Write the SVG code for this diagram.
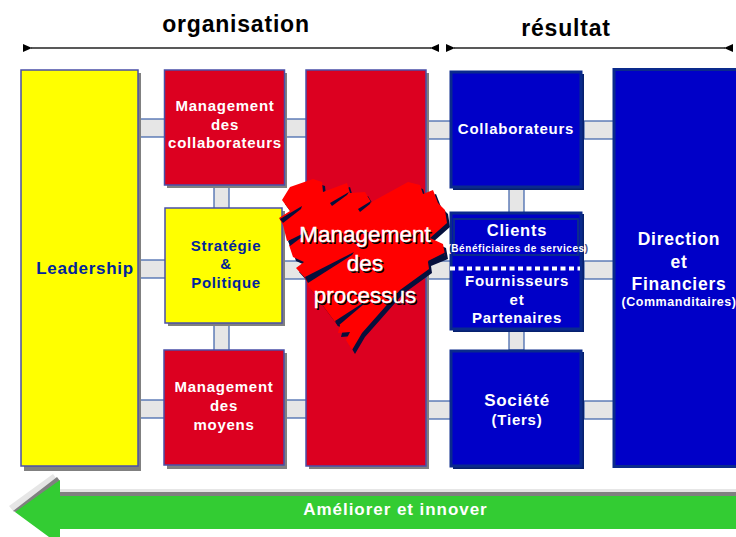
<svg xmlns="http://www.w3.org/2000/svg" width="736" height="537" viewBox="0 0 736 537">
<defs>
<marker id="ah" markerWidth="9" markerHeight="8" refX="1" refY="4" orient="auto-start-reverse" markerUnits="userSpaceOnUse"><path d="M9 0L0 4L9 8Z" fill="#000"/></marker>
<polygon id="heart" points="282,200 290,187 313,179 322,182 323,192 347,183 350,193 365,192 371,202 368,204 408,182 420,185 423,194 433,190 438,203 445,210 447,223 430,238 443,244 445,255 428,262 429,269 400,290 362,333 352,350 346,340 350,332 338,333 340,325 335,322 309,287 305,278 296,268 304,262 293,257 289,245 298,238 287,241 283,225 279,218 290,211"/>
</defs>
<style>
text{font-family:"Liberation Sans",Arial,sans-serif;font-weight:700;text-anchor:middle}
.w{fill:#fff;font-size:15px;letter-spacing:.75px}
.n{fill:#00249c;font-size:15px;letter-spacing:.7px}
.h{fill:#000;font-size:23px;letter-spacing:.8px}
.s{fill:#fff;letter-spacing:.55px}
.c{fill:#e6e6e6;stroke:#3a5fa8;stroke-width:1.2}
.bx{stroke:#4a4fa8;stroke-width:1.5}
.sh{fill:#808080}
.blue{fill:#0000c8;stroke:#0a2a8c;stroke-width:3}
.bs{fill:#06206e}
.big{fill:#fff;font-size:22.500px;font-weight:400;stroke:#fff;stroke-width:.4px}
.bigs{fill:#000;font-size:22.500px;font-weight:400}
.sl{fill:#06103c}
</style>
<g id="connectors">
<rect class="c" x="139" y="119" width="27" height="18"/>
<rect class="c" x="285" y="119" width="22" height="18"/>
<rect class="c" x="139" y="260" width="27" height="18"/>
<rect class="c" x="283" y="261" width="24" height="18"/>
<rect class="c" x="139" y="400" width="27" height="18"/>
<rect class="c" x="285" y="400" width="22" height="18"/>
<rect class="c" x="214" y="187" width="15" height="22"/>
<rect class="c" x="214" y="324" width="15" height="27"/>
<rect class="c" x="426" y="121" width="26" height="18"/>
<rect class="c" x="426" y="261" width="26" height="18"/>
<rect class="c" x="426" y="401" width="26" height="18"/>
<rect class="c" x="584" y="121" width="30" height="18"/>
<rect class="c" x="584" y="261" width="30" height="18"/>
<rect class="c" x="584" y="401" width="30" height="18"/>
<rect class="c" x="509" y="189" width="15" height="24"/>
<rect class="c" x="509" y="331" width="15" height="19"/>
</g>
<g id="titles">
<text class="h" x="236" y="32">organisation</text>
<text class="h" x="566" y="36">résultat</text>
<line x1="31" y1="48" x2="431" y2="48" stroke="#222" stroke-width="1.5" marker-start="url(#ah)" marker-end="url(#ah)"/>
<line x1="454" y1="48" x2="725" y2="48" stroke="#222" stroke-width="1.5" marker-start="url(#ah)" marker-end="url(#ah)"/>
</g>
<g id="leadership">
<rect class="sh" x="24" y="73" width="117" height="398"/>
<rect class="bx" x="21" y="70" width="117" height="396" fill="#ff0"/>
<text class="n" x="85" y="274" style="font-size:17px">Leadership</text>
</g>
<g id="mgmt-collab">
<rect class="sh" x="167" y="73" width="120" height="115"/>
<rect class="bx" x="164.500" y="70" width="120" height="115" fill="#dc0020"/>
<text class="w" x="225" y="111">Management</text><text class="w" x="225" y="130">des</text><text class="w" x="225" y="148">collaborateurs</text>
</g>
<g id="strategie">
<rect class="sh" x="168" y="211" width="117" height="115"/>
<rect class="bx" x="165" y="208" width="117" height="115" fill="#ff0"/>
<text class="n" x="226" y="251">Stratégie</text><text class="n" x="226" y="269">&amp;</text><text class="n" x="226" y="288">Politique</text>
</g>
<g id="mgmt-moyens">
<rect class="sh" x="167" y="353" width="120" height="116"/>
<rect class="bx" x="164" y="350" width="120" height="115" fill="#dc0020"/>
<text class="w" x="224" y="392">Management</text><text class="w" x="224" y="411">des</text><text class="w" x="224" y="430">moyens</text>
</g>
<g id="processus">
<rect class="sh" x="309" y="73" width="120" height="396"/>
<rect class="bx" x="306" y="70" width="120" height="396" fill="#dc0020"/>
<use href="#heart" x="3" y="4" fill="#06103c"/>
<use href="#heart" fill="#f00"/>
<polygon class="sl" points="280,219 302,206 301,209 283,223"/>
<polygon class="sl" points="288,241 308,231 306,234 290,246"/>
<polygon class="sl" points="305,277 354,252 352,255 308,283"/>
<polygon class="sl" points="335,321 366,301 364,304 338,326"/>
<polygon class="sl" points="330,203 349,192 347,195 332,206"/>
<polygon class="sl" points="358,209 371,201 370,204 360,212"/>
<polygon class="sl" points="428,261 446,252 444,256 430,265"/>
<text class="bigs" x="366.500" y="243.500">Management</text><text class="bigs" x="366.500" y="272.500">des</text><text class="bigs" x="366.500" y="304.500">processus</text>
<text class="big" x="365" y="242">Management</text><text class="big" x="365" y="271">des</text><text class="big" x="365" y="303">processus</text>
</g>
<g id="collaborateurs">
<rect class="bs" x="453" y="74" width="131" height="116"/>
<rect class="blue" x="451" y="72" width="130" height="115"/>
<text class="w" x="516" y="134">Collaborateurs</text>
</g>
<g id="clients">
<rect class="bs" x="453" y="214" width="131" height="118"/>
<rect class="blue" x="451" y="213" width="130" height="116"/>
<rect x="454" y="219" width="124" height="36" fill="none" stroke="#0a2a8c" stroke-width="2"/>
<text class="w" x="517" y="236" style="font-size:16.500px">Clients</text>
<text class="s" x="518" y="252" style="font-size:10px">(Bénéficiaires de services<tspan fill="#44508c">)</tspan></text>
<line x1="450" y1="268.500" x2="580" y2="268.500" stroke="#fff" stroke-width="4" stroke-dasharray="5 3.500"/>
<text class="w" x="517" y="286">Fournisseurs</text><text class="w" x="517" y="305">et</text><text class="w" x="517" y="323">Partenaires</text>
</g>
<g id="societe">
<rect class="bs" x="453" y="352" width="131" height="117"/>
<rect class="blue" x="451" y="351" width="130" height="115"/>
<text class="w" x="517" y="406" style="font-size:17px">Société</text><text class="w" x="517" y="425">(Tiers)</text>
</g>
<g id="direction">
<rect class="blue" x="614" y="69.500" width="130" height="397"/>
<text class="w" x="679" y="245" style="font-size:17.500px">Direction</text><text class="w" x="679" y="268" style="font-size:17.500px">et</text><text class="w" x="679" y="290" style="font-size:17.500px">Financiers</text>
<text class="s" x="679" y="306" style="font-size:12.500px">(Commanditaires)</text>
</g>
<g id="ameliorer">
<polygon points="9,506 53,474 56,478 56,489 736,489 736,496 60,496 60,482 14,512" fill="#e6e6e6"/>
<polygon points="13,511 57,477 60,481 60,492 736,492 736,496 60,496 60,485 16,512" fill="#808080"/>
<polygon points="15,512 60,480 60,496 736,496 736,529 60,529 60,537 49,537" fill="#33cc33"/>
<text x="395.500" y="515" fill="#fff" style="font-size:17px;letter-spacing:.95px">Améliorer et innover</text>
</g>
</svg>
